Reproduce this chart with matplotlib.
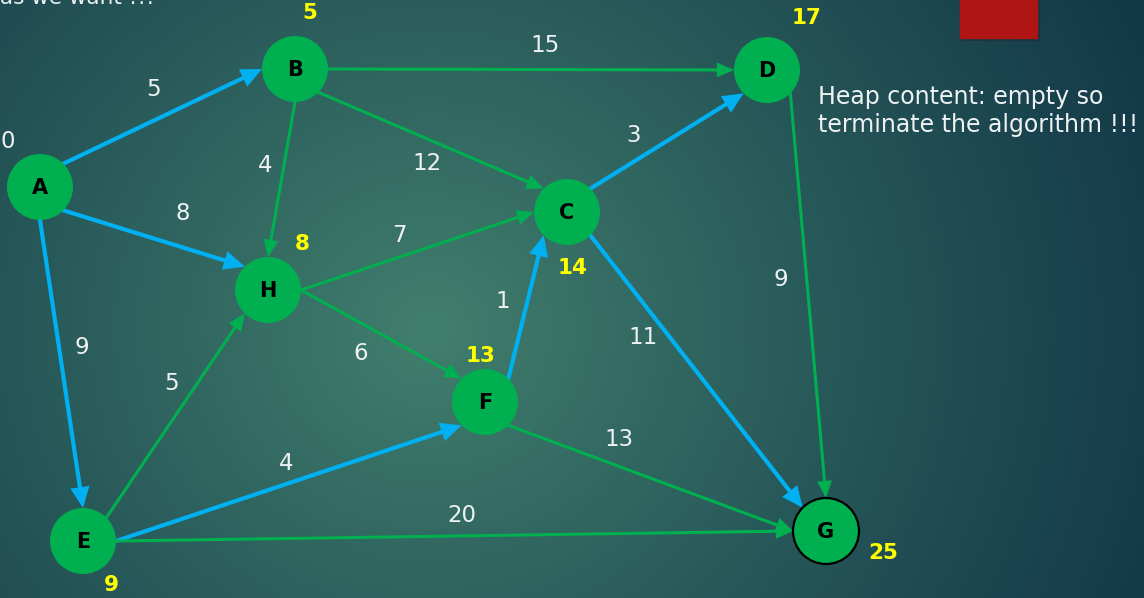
import numpy as np
import matplotlib
matplotlib.use("Agg")
import matplotlib.pyplot as plt
from matplotlib.patches import Circle, FancyArrowPatch, Rectangle, ArrowStyle

# ---------------- data ----------------
node_names = ['A', 'B', 'C', 'D', 'E', 'F', 'G', 'H']
node_x = [40, 295, 567, 767, 83, 485, 826, 268]
node_y = [187, 69, 212, 70, 541, 402, 531, 290]
node_dist = [0, 5, 14, 17, 9, 13, 25, 8]

edge_src = ['A', 'A', 'A', 'B', 'B', 'B', 'H', 'H', 'E', 'E', 'E', 'F', 'F', 'C', 'C', 'D']
edge_dst = ['B', 'H', 'E', 'D', 'C', 'H', 'C', 'F', 'H', 'F', 'G', 'C', 'G', 'D', 'G', 'G']
edge_weight = [5, 8, 9, 15, 12, 4, 7, 6, 5, 4, 20, 1, 13, 3, 11, 9]
edge_in_tree = [1, 1, 1, 0, 0, 0, 0, 0, 0, 1, 0, 1, 0, 1, 1, 0]

heap_text = ["Heap content: empty so", "terminate the algorithm !!!"]
top_text = "as we want !!!"

# ---------------- layout ----------------
src_port = ['NE', 'SE', 'S', 'E', 'SE', 'S', 'E', 'E', 'NE', 'E', 'E', 'NE', 'SE', 'NE', 'SE', 'SE']
dst_port = ['W', 'NW', 'N', 'W', 'NW', 'N', 'W', 'NW', 'SW', 'SW', 'W', 'SW', 'W', 'SW', 'NW', 'N']
weight_lx = [153, 183, 82, 545, 427, 265, 399, 361, 172, 286, 462, 503, 619, 634, 643, 781]
weight_ly = [90, 213, 348, 45, 163, 165, 235, 353, 383, 463, 516, 301, 440, 136, 338, 280]
dist_lx = [8, 310, 572, 807, 111, 480, 883, 302]
dist_ly = [141, 13, 268, 18, 585, 356, 553, 244]

R = 33
W, H = 1144, 598
angles = {'E': 0, 'NE': 45, 'N': 90, 'NW': 135, 'W': 180, 'SW': 225, 'S': 270, 'SE': 315}

def port(name, p):
    i = node_names.index(name)
    a = np.deg2rad(angles[p])
    return (node_x[i] + R * np.cos(a), node_y[i] - R * np.sin(a))

GREEN = '#00b050'
BLUE = '#00b0f0'
YELLOW = '#ffff00'
WHITE = '#eef2f2'
FONT = ['DejaVu Sans']

fig = plt.figure(figsize=(W / 100, H / 100), dpi=100)
ax = fig.add_axes([0, 0, 1, 1])
ax.set_xlim(0, W)
ax.set_ylim(H, 0)
ax.axis('off')

# background radial gradient
yy, xx = np.mgrid[0:H, 0:W]
r = np.sqrt(((xx - 430) / 1.0) ** 2 + ((yy - 330) / 0.95) ** 2)
t = np.clip(r / 780, 0, 1) ** 0.9
c0 = np.array([0x42, 0x80, 0x6e]) / 255
c1 = np.array([0x12, 0x38, 0x48]) / 255
img = c0[None, None, :] * (1 - t[..., None]) + c1[None, None, :] * t[..., None]
ax.imshow(img, extent=(0, W, H, 0), zorder=0, interpolation='bilinear')

# red box
ax.add_patch(Rectangle((962, 2), 77, 38, color='#1a2a30', alpha=0.35, zorder=1))
ax.add_patch(Rectangle((960, 0), 77, 38, color='#b01515', zorder=2))

# edges
for s, d, w, tr, sp, dp, lx, ly in zip(edge_src, edge_dst, edge_weight, edge_in_tree,
                                      src_port, dst_port, weight_lx, weight_ly):
    p0 = port(s, sp)
    p1 = port(d, dp)
    if tr:
        style = ArrowStyle('-|>', head_length=10, head_width=4.6)
        col, lw = BLUE, 3.0
    else:
        style = ArrowStyle('-|>', head_length=8.5, head_width=3.7)
        col, lw = GREEN, 2.2
    arr = FancyArrowPatch(p0, p1, arrowstyle=style, mutation_scale=1, color=col,
                          lw=lw, shrinkA=0, shrinkB=0, zorder=3, joinstyle='miter')
    ax.add_patch(arr)
    ax.text(lx, ly, str(w), color=WHITE, fontsize=16.5, family=FONT,
            ha='center', va='center', zorder=5)

# nodes
for n, x, y in zip(node_names, node_x, node_y):
    ec = 'black' if n == 'G' else 'none'
    ax.add_patch(Circle((x, y), R, facecolor=GREEN, edgecolor=ec, lw=1.6, zorder=4))
    ax.text(x, y + 1, n, color='black', fontsize=15, fontweight='bold',
            family=FONT, ha='center', va='center', zorder=5)

# distance labels
for n, dv, lx, ly in zip(node_names, node_dist, dist_lx, dist_ly):
    if n == 'A':
        ax.text(lx, ly, str(dv), color=WHITE, fontsize=16.5,
                family=FONT, ha='center', va='center', zorder=5)
    else:
        ax.text(lx, ly, str(dv), color=YELLOW, fontsize=15.5, fontweight='bold',
                family=FONT, ha='center', va='center', zorder=5)

# heap text
for i, line in enumerate(heap_text):
    ax.text(818, 97 + 28 * i, line, color=WHITE, fontsize=17,
            family=FONT, ha='left', va='center', zorder=5)

ax.text(0, 4, top_text, color=WHITE, fontsize=15.5, family=FONT,
        ha='left', va='baseline', zorder=5)

fig.savefig('out.png', dpi=100)
